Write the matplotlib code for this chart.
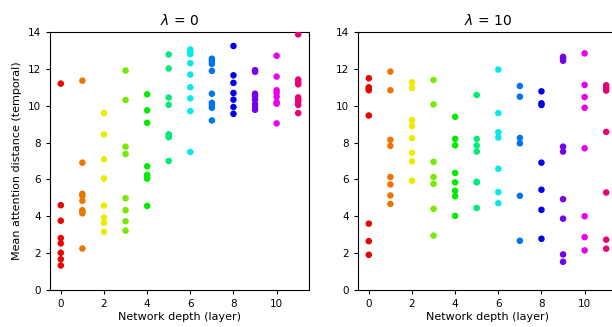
import matplotlib
matplotlib.use("Agg")
import matplotlib.pyplot as plt
import colorsys

layers = list(range(12))

# Mean attention distance per head, lambda = 0
dist_l0 = [
    [11.2, 4.6, 3.76, 2.82, 2.53, 2.02, 1.67, 1.33],
    [11.36, 6.91, 5.22, 5.11, 4.84, 4.33, 4.25, 4.16, 2.25],
    [9.6, 8.44, 7.09, 6.05, 4.58, 3.93, 3.64, 3.16],
    [11.91, 10.31, 7.78, 7.38, 4.98, 4.33, 3.73, 3.22],
    [10.62, 9.75, 9.07, 6.71, 6.25, 6.15, 6.04, 4.56],
    [12.78, 12.02, 10.44, 10.05, 8.45, 8.36, 8.29, 7.0],
    [13.05, 12.93, 12.8, 12.31, 11.69, 11.0, 10.4, 9.71, 7.49],
    [12.55, 12.42, 12.27, 11.89, 10.65, 10.16, 10.02, 9.89, 9.2],
    [13.24, 11.65, 11.24, 10.69, 10.33, 9.93, 9.56],
    [11.93, 11.84, 10.65, 10.51, 10.33, 10.09, 9.93, 9.78],
    [12.71, 11.58, 10.84, 10.69, 10.49, 10.2, 10.11, 9.04],
    [13.87, 11.42, 11.29, 11.16, 10.45, 10.33, 10.2, 10.04, 9.6],
]

# Mean attention distance per head, lambda = 10
dist_l10 = [
    [11.49, 11.0, 10.91, 10.84, 9.47, 3.6, 2.65, 1.91],
    [11.85, 10.84, 8.15, 7.82, 6.13, 5.73, 5.13, 4.67],
    [11.27, 10.96, 9.22, 8.89, 8.24, 7.45, 6.98, 5.93],
    [11.4, 10.07, 6.95, 6.13, 5.76, 4.4, 2.95],
    [9.4, 8.2, 7.85, 6.35, 5.84, 5.38, 5.09, 4.02],
    [10.58, 8.2, 7.84, 7.51, 5.87, 5.84, 4.45],
    [11.96, 9.6, 8.56, 8.27, 6.58, 5.31, 4.71],
    [11.07, 10.49, 8.25, 7.96, 5.11, 2.67],
    [10.78, 10.13, 10.04, 6.91, 5.44, 4.35, 2.78],
    [12.65, 12.55, 12.44, 7.78, 7.51, 4.93, 3.87, 1.93, 1.53],
    [12.84, 11.13, 10.47, 9.89, 7.69, 4.0, 2.87, 2.15],
    [11.11, 10.96, 10.82, 8.58, 5.29, 2.73, 2.24],
]

titles = [r"$\lambda$ = 0", r"$\lambda$ = 10"]
xticks = [0, 2, 4, 6, 8, 10]
yticks = [0, 2, 4, 6, 8, 10, 12, 14]

fig = plt.figure(figsize=(6.12, 3.27), dpi=100)
ax1 = fig.add_axes([50/612, 37/327, 259/612, 258/327])
ax2 = fig.add_axes([358/612, 37/327, 259/612, 258/327])

def layer_color(i):
    return colorsys.hsv_to_rgb(i / 12, 1.0, 0.92)

for ax, data, title in zip([ax1, ax2], [dist_l0, dist_l10], titles):
    for layer, vals in zip(layers, data):
        ax.scatter([layer] * len(vals), vals, s=22, color=layer_color(layer),
                   edgecolors='none', zorder=3)
    ax.set_xlim(-0.5, 11.5)
    ax.set_ylim(0, 14)
    ax.set_xticks(xticks)
    ax.set_yticks(yticks)
    ax.tick_params(labelsize=7.5, length=3)
    ax.set_title(title, fontsize=10, pad=5)
    ax.set_xlabel("Network depth (layer)", fontsize=8, labelpad=2)

ax1.set_ylabel("Mean attention distance (temporal)", fontsize=8, labelpad=4)

fig.savefig("out.png", dpi=100)
